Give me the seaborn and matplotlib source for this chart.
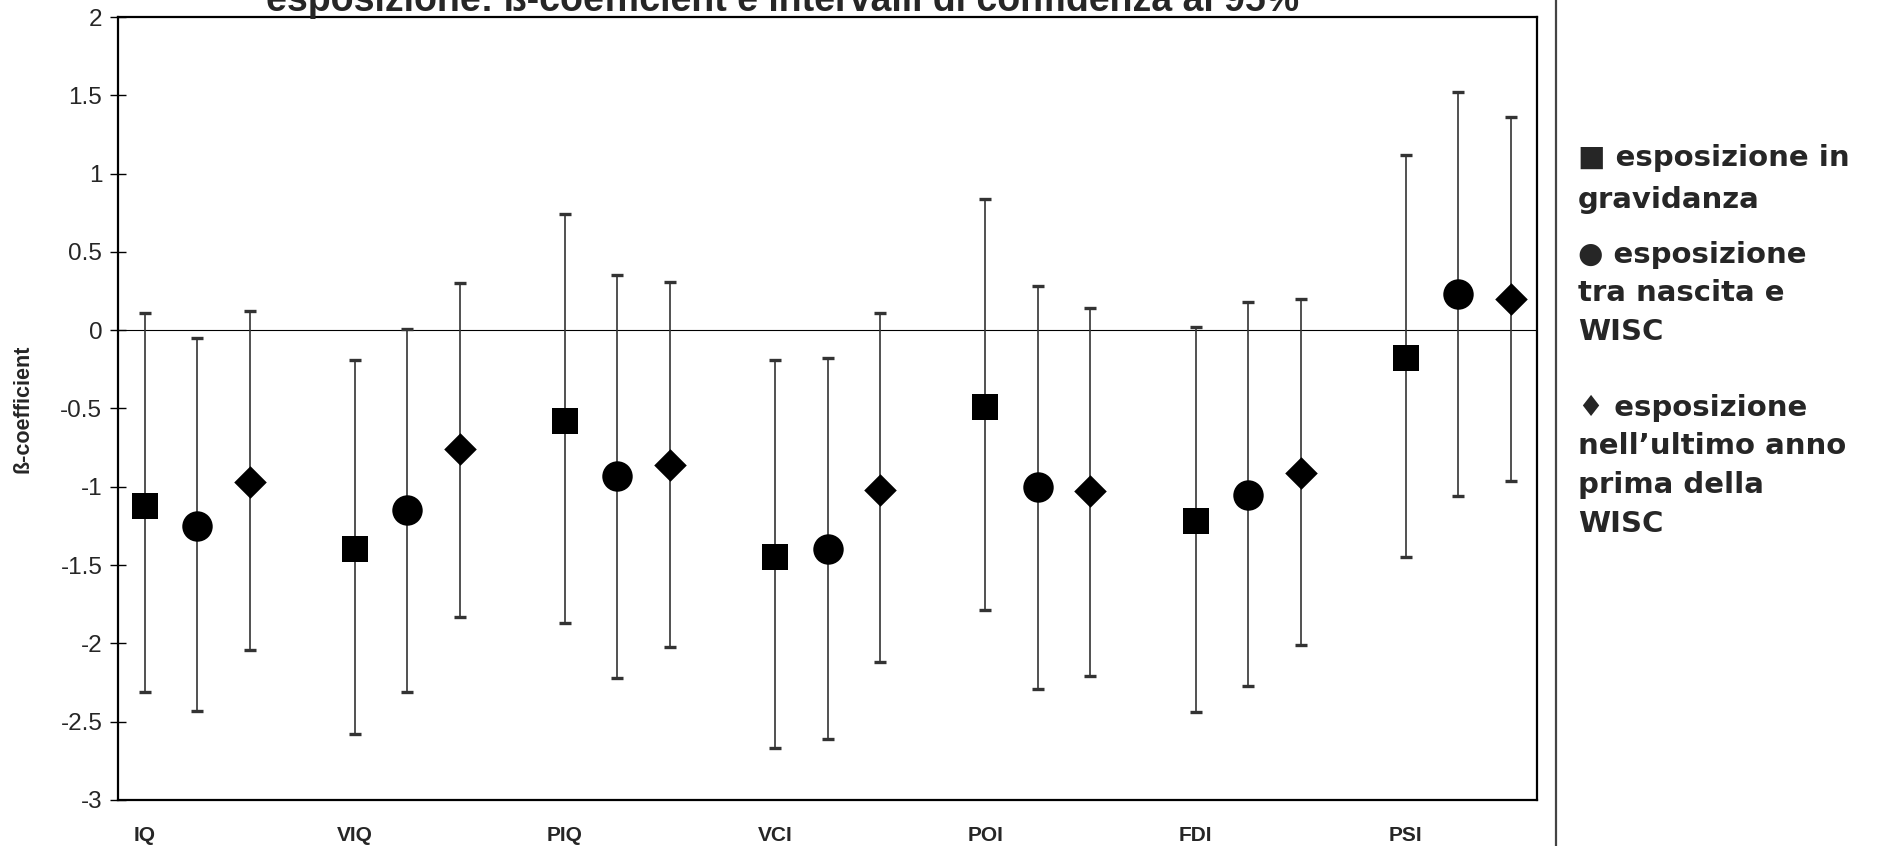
import numpy as np
import pandas as pd
import matplotlib
matplotlib.use("Agg")
import matplotlib.pyplot as plt
import seaborn as sns

# data
scales = ["IQ", "VIQ", "PIQ", "VCI", "POI", "FDI", "PSI"]
series = ["esposizione in gravidanza", "esposizione tra nascita e WISC",
          "esposizione nell'ultimo anno prima della WISC"]

beta_pregnancy = [-1.12, -1.40, -0.58, -1.45, -0.49, -1.22, -0.18]
low_pregnancy = [-2.31, -2.58, -1.87, -2.67, -1.79, -2.44, -1.45]
high_pregnancy = [0.11, -0.19, 0.74, -0.19, 0.84, 0.02, 1.12]

beta_birth = [-1.25, -1.15, -0.93, -1.40, -1.00, -1.05, 0.23]
low_birth = [-2.43, -2.31, -2.22, -2.61, -2.29, -2.27, -1.06]
high_birth = [-0.05, 0.01, 0.35, -0.18, 0.28, 0.18, 1.52]

beta_lastyear = [-0.97, -0.76, -0.86, -1.02, -1.03, -0.91, 0.20]
low_lastyear = [-2.04, -1.83, -2.02, -2.12, -2.21, -2.01, -0.96]
high_lastyear = [0.12, 0.30, 0.31, 0.11, 0.14, 0.20, 1.36]

rows = []
for s, (b, lo, hi) in enumerate([(beta_pregnancy, low_pregnancy, high_pregnancy),
                                 (beta_birth, low_birth, high_birth),
                                 (beta_lastyear, low_lastyear, high_lastyear)]):
    for g, name in enumerate(scales):
        rows.append({"scale": name, "series": series[s], "pos": g * 4 + s,
                     "beta": b[g], "low": lo[g], "high": hi[g]})
df = pd.DataFrame(rows)

sns.set_theme(style="white")
plt.rcParams["font.family"] = ["Liberation Sans", "DejaVu Sans"]
plt.rcParams["axes.unicode_minus"] = False

fig = plt.figure(figsize=(18.77, 8.46), dpi=100)
ax = fig.add_axes([0.0630, 0.0544, 0.7559, 0.9255])

ax.axhline(0, color="black", lw=0.8, zorder=1)

ax.errorbar(df["pos"], df["beta"],
            yerr=[df["beta"] - df["low"], df["high"] - df["beta"]],
            fmt="none", ecolor="#333333", elinewidth=1.2,
            capsize=4.5, capthick=2.4, zorder=2)

marker_map = {series[0]: "s", series[1]: "o", series[2]: "D"}
size_map = {series[0]: 340, series[1]: 480, series[2]: 275}
for name in series:
    sub = df[df["series"] == name]
    sns.scatterplot(data=sub, x="pos", y="beta", marker=marker_map[name],
                    s=size_map[name], color="black", edgecolor="black",
                    linewidth=0, ax=ax, legend=False, zorder=3)

ax.set_xlim(-0.5, 26.5)
ax.set_ylim(-3, 2)
ax.set_yticks(np.arange(-3, 2.01, 0.5))
ax.set_yticklabels([f"{v:g}" for v in np.arange(-3, 2.01, 0.5)], fontsize=17.5)
ax.set_xticks([g * 4 for g in range(len(scales))])
ax.set_xticklabels(scales, fontsize=15, fontweight="bold")
ax.tick_params(axis="x", length=0, pad=19)
ax.tick_params(axis="y", direction="inout", length=11, width=1, color="black",
               left=True, pad=6)
ax.set_xlabel("")
ax.set_ylabel("ß-coefficient", fontsize=15.5, fontweight="bold")
ax.yaxis.set_label_coords(-0.060, 0.5)

for side in ["left", "bottom", "top", "right"]:
    ax.spines[side].set_color("black")
    ax.spines[side].set_linewidth(1.6)

# title, partly cut off at the top edge as in the reference
fig.text(783 / 1877, 1 - 11 / 846,
         "esposizione: ß-coefficient e intervalli di confidenza al 95%",
         ha="center", va="baseline", fontsize=27, fontweight="bold")

# divider line and text legend on the right
fig.add_artist(plt.Line2D([1556 / 1877, 1556 / 1877], [0, 1],
                          color="#444444", lw=1.6, transform=fig.transFigure))

legend_lines = [
    ("■ esposizione in", 158), ("gravidanza", 200),
    ("● esposizione", 255), ("tra nascita e", 293), ("WISC", 332),
    ("♦ esposizione", 408), ("nell’ultimo anno", 446),
    ("prima della", 485), ("WISC", 524),
]
for txt, ypix in legend_lines:
    fig.text(1578 / 1877, 1 - ypix / 846, txt, ha="left", va="center",
             fontsize=21, fontweight="bold", family=["DejaVu Sans"])

fig.savefig("out.png", dpi=100)
